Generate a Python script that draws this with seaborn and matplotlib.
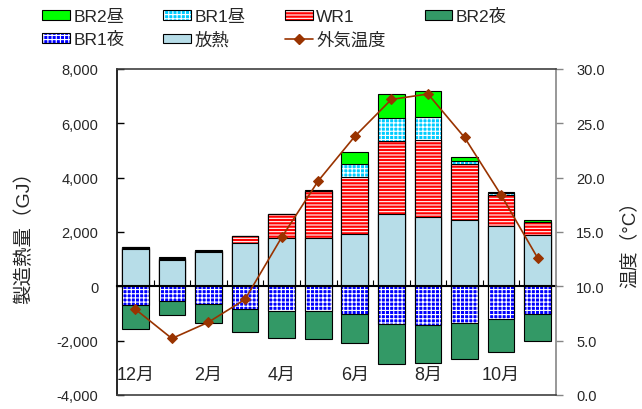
import numpy as np
import pandas as pd
import matplotlib
matplotlib.use("Agg")
import matplotlib.pyplot as plt
from matplotlib.patches import Patch
from matplotlib.lines import Line2D
from matplotlib.ticker import FuncFormatter, MultipleLocator
import seaborn as sns

# data
months = ["12月", "1月", "2月", "3月", "4月", "5月", "6月", "7月", "8月", "9月", "10月", "11月"]
tick_months = ["12月", "", "2月", "", "4月", "", "6月", "", "8月", "", "10月", ""]

heat_release = [1390, 980, 1260, 1590, 1790, 1790, 1940, 2650, 2550, 2460, 2220, 1900]  # 放熱
wr1 = [30, 40, 30, 250, 860, 1710, 2080, 2690, 2840, 2030, 1160, 450]
br1_day = [10, 10, 10, 10, 10, 20, 480, 860, 860, 120, 40, 30]
br2_day = [15, 40, 20, 10, 10, 35, 460, 880, 930, 150, 70, 60]
br1_night = [-700, -540, -660, -820, -920, -920, -1010, -1400, -1410, -1350, -1215, -1010]
br2_night = [-855, -530, -690, -870, -970, -1015, -1070, -1470, -1395, -1320, -1200, -1010]
outdoor_temp = [7.9, 5.2, 6.7, 8.8, 14.5, 19.7, 23.8, 27.2, 27.7, 23.7, 18.4, 12.6]

df = pd.DataFrame({
    "month": months,
    "放熱": heat_release,
    "WR1": wr1,
    "BR1昼": br1_day,
    "BR2昼": br2_day,
    "BR1夜": br1_night,
    "BR2夜": br2_night,
})
pos = df[["放熱", "WR1", "BR1昼", "BR2昼"]].cumsum(axis=1)
neg = df[["BR1夜", "BR2夜"]].cumsum(axis=1)
pos["month"] = months
neg["month"] = months

sns.set_theme(style="white")
plt.rcParams["font.family"] = ["Liberation Sans", "Noto Sans CJK JP", "DejaVu Sans"]
plt.rcParams["hatch.linewidth"] = 0.8
plt.rcParams["axes.unicode_minus"] = False

C_BR2D = "#00FF00"
C_BR1D = "#00CCFF"
C_WR1 = "#FF0000"
C_BR2N = "#339966"
C_BR1N = "#0000FF"
C_HEAT = "#B7DDE8"
C_TEMP = "#993300"

fig = plt.figure(figsize=(6.42, 4.10), dpi=100)
ax = fig.add_axes([117 / 642, 1 - 396 / 410, 439 / 642, 326 / 410])


def draw_layer(data, col, face, hatch=None, hcolor="white"):
    n0 = len(ax.patches)
    sns.barplot(data=data, x="month", y=col, order=months, ax=ax, width=0.73,
                saturation=1, color=face, errorbar=None)
    for p in ax.patches[n0:]:
        p.set_facecolor(face)
        if hatch:
            p.set_hatch(hatch)
            p.set_edgecolor(hcolor)
            p.set_linewidth(0)
        else:
            p.set_edgecolor("black")
            p.set_linewidth(0.8)
    if hatch:
        n1 = len(ax.patches)
        sns.barplot(data=data, x="month", y=col, order=months, ax=ax, width=0.73,
                    saturation=1, color="white", errorbar=None)
        for p in ax.patches[n1:]:
            p.set_facecolor("none")
            p.set_edgecolor("black")
            p.set_linewidth(0.8)


# positive stack, tallest first
draw_layer(pos, "BR2昼", C_BR2D)
draw_layer(pos, "BR1昼", C_BR1D, hatch="++++")
draw_layer(pos, "WR1", C_WR1, hatch="-----")
draw_layer(pos, "放熱", C_HEAT)
# negative stack
draw_layer(neg, "BR2夜", C_BR2N)
draw_layer(neg, "BR1夜", C_BR1N, hatch="++++")

ax2 = ax.twinx()
sns.lineplot(x=months, y=outdoor_temp, ax=ax2, sort=False, color=C_TEMP,
             linewidth=1.2, marker="D", markersize=5.5, markeredgecolor=C_TEMP)

# x axis on the zero line
ax.set_xlim(-0.5, 11.5)
ax.set_xticks(range(len(months)))
ax.set_xticklabels(tick_months)
ax.set_xticks(np.arange(0.5, 11, 1), minor=True)
ax.tick_params(axis="x", which="major", length=0, pad=57, labelsize=13)
ax.tick_params(axis="x", which="minor", direction="in", length=4, width=0.8, color="black", bottom=True)
ax.set_xlabel("")
ax.spines["bottom"].set_position(("data", 0))
ax.spines["bottom"].set_color("black")
ax.spines["bottom"].set_linewidth(1.5)
ax.spines["top"].set_visible(False)
ax.spines["right"].set_visible(False)
ax.spines["left"].set_color("black")
ax.spines["left"].set_linewidth(1.2)

ax.set_ylim(-4000, 8000)
ax.yaxis.set_major_locator(MultipleLocator(2000))
ax.yaxis.set_major_formatter(FuncFormatter(lambda v, _: f"{v:,.0f}"))
ax.tick_params(axis="y", direction="in", length=5, width=1, color="black", pad=13.5,
               labelsize=10.5, left=True)
ax.set_ylabel("製造熱量（GJ）", fontsize=14)
ax.yaxis.set_label_coords(-0.19, 0.5)

ax2.set_ylim(0, 30)
ax2.yaxis.set_major_locator(MultipleLocator(5))
ax2.yaxis.set_major_formatter(FuncFormatter(lambda v, _: f"{v:.1f}"))
ax2.tick_params(axis="y", direction="out", length=5, width=1, color="#868686", pad=9.5,
                labelsize=10.5, right=True)
ax2.set_ylabel("温度（°C）", fontsize=13.5)
ax2.yaxis.set_label_coords(1.147, 0.48)
ax2.spines["left"].set_visible(False)
ax2.spines["right"].set_color("#868686")
ax2.spines["top"].set_color("#404040")
ax2.spines["bottom"].set_color("#404040")
for s in ["right", "top", "bottom"]:
    ax2.spines[s].set_linewidth(1.2)

# legend
def hatched(face, hatch):
    return (Patch(facecolor=face, hatch=hatch, edgecolor="white", linewidth=0),
            Patch(facecolor="none", edgecolor="black", linewidth=0.8))

h_br2d = Patch(facecolor=C_BR2D, edgecolor="black", linewidth=0.8)
h_br1d = hatched(C_BR1D, "++++")
h_wr1 = hatched(C_WR1, "-----")
h_br2n = Patch(facecolor=C_BR2N, edgecolor="black", linewidth=0.8)
h_br1n = hatched(C_BR1N, "++++")
h_heat = Patch(facecolor=C_HEAT, edgecolor="black", linewidth=0.8)
h_temp = Line2D([], [], color=C_TEMP, linewidth=1.2, marker="D", markersize=5.5)

handles = [h_br2d, h_br1n, h_br1d, h_heat, h_wr1, h_temp, h_br2n]
labels = ["BR2昼", "BR1夜", "BR1昼", "放熱", "WR1", "外気温度", "BR2夜"]
fig.legend(handles, labels, ncol=4, loc="upper left",
           bbox_to_anchor=(42 / 642, 1 - 9 / 410), frameon=False, fontsize=12.5,
           handlelength=1.6, handleheight=0.46, handletextpad=0.2,
           columnspacing=2.25, labelspacing=0.42, borderpad=0, borderaxespad=0)

fig.savefig("out.png", dpi=100)
